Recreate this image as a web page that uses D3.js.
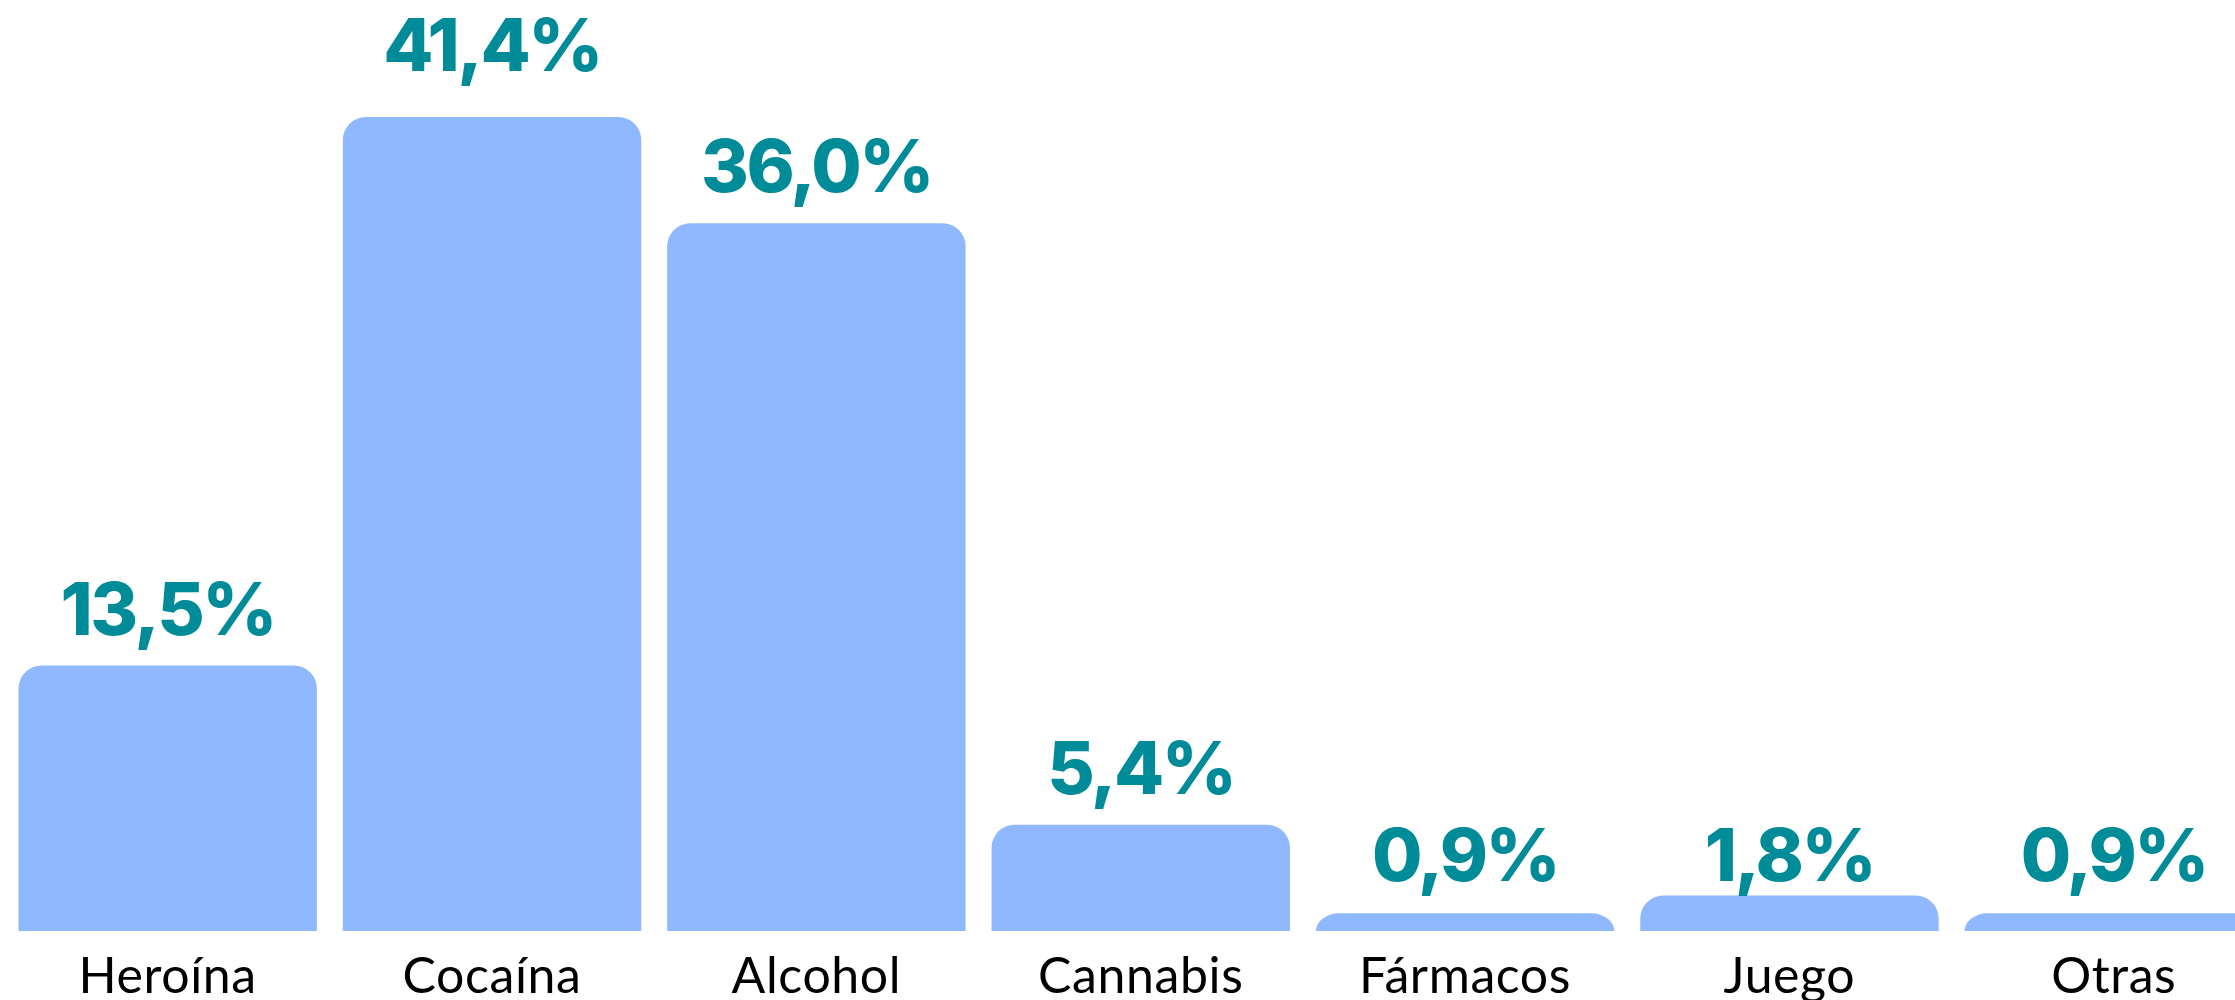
<!DOCTYPE html>
<html>
<head>
<meta charset="utf-8">
<script src="https://cdn.jsdelivr.net/npm/d3@7"></script>
<style>
  body { margin: 0; background: #fff; }
  svg { display: block; }
</style>
</head>
<body>
<svg></svg>
<script>
var categories = ['Heroína', 'Cocaína', 'Alcohol', 'Cannabis', 'Fármacos', 'Juego', 'Otras'];
var values = [13.5, 41.4, 36.0, 5.4, 0.9, 1.8, 0.9];
var valueLabels = ['13,5%', '41,4%', '36,0%', '5,4%', '0,9%', '1,8%', '0,9%'];

var width = 2235;
var height = 1000;
var baseline = 931;
var radius = 23;

var data = categories.map((c, i) => ({ cat: c, value: values[i], label: valueLabels[i] }));

var svg = d3.select('svg')
            .attr('width', width)
            .attr('height', height);

var xScale = d3.scaleBand()
               .domain(categories)
               .range([18.5, 2263])
               .paddingInner(0.08)
               .paddingOuter(0);

var yScale = d3.scaleLinear()
               .domain([0, 41.4])
               .range([baseline, 117]);

// bar with rounded top corners only
function barPath(d) {
  var x = xScale(d.cat);
  var w = xScale.bandwidth();
  var y = yScale(d.value);
  var h = baseline - y;
  var rx = Math.min(radius, w / 2);
  var ry = Math.min(radius, h);
  return 'M' + x + ',' + baseline +
         'V' + (y + ry) +
         'A' + rx + ',' + ry + ' 0 0 1 ' + (x + rx) + ',' + y +
         'H' + (x + w - rx) +
         'A' + rx + ',' + ry + ' 0 0 1 ' + (x + w) + ',' + (y + ry) +
         'V' + baseline + 'Z';
}

// small bars share one label line, the tallest gets a bit more room
var maxValue = d3.max(values);
function labelY(d) {
  if (d.value < 2) return baseline - 50;
  if (d.value === maxValue) return yScale(d.value) - 46;
  return yScale(d.value) - 31;
}

svg.append('g')
  .selectAll('path')
  .data(data)
  .enter()
  .append('path')
    .attr('d', barPath)
    .attr('fill', '#90b8fe');

svg.append('g')
  .selectAll('text')
  .data(data)
  .enter()
  .append('text')
    .attr('x', d => xScale(d.cat) + xScale.bandwidth() / 2)
    .attr('y', labelY)
    .attr('text-anchor', 'middle')
    .style('font-family', 'Inter, sans-serif')
    .style('font-weight', 800)
    .style('font-size', '73px')
    .style('letter-spacing', '-2.5px')
    .style('fill', '#008b99')
    .text(d => d.label);

svg.append('g')
  .selectAll('text')
  .data(data)
  .enter()
  .append('text')
    .attr('x', d => xScale(d.cat) + xScale.bandwidth() / 2)
    .attr('y', 993)
    .attr('text-anchor', 'middle')
    .style('font-family', 'Lato, sans-serif')
    .style('font-weight', 400)
    .style('font-size', '50px')
    .style('letter-spacing', '0.6px')
    .style('fill', '#000')
    .text(d => d.cat);
</script>
</body>
</html>
